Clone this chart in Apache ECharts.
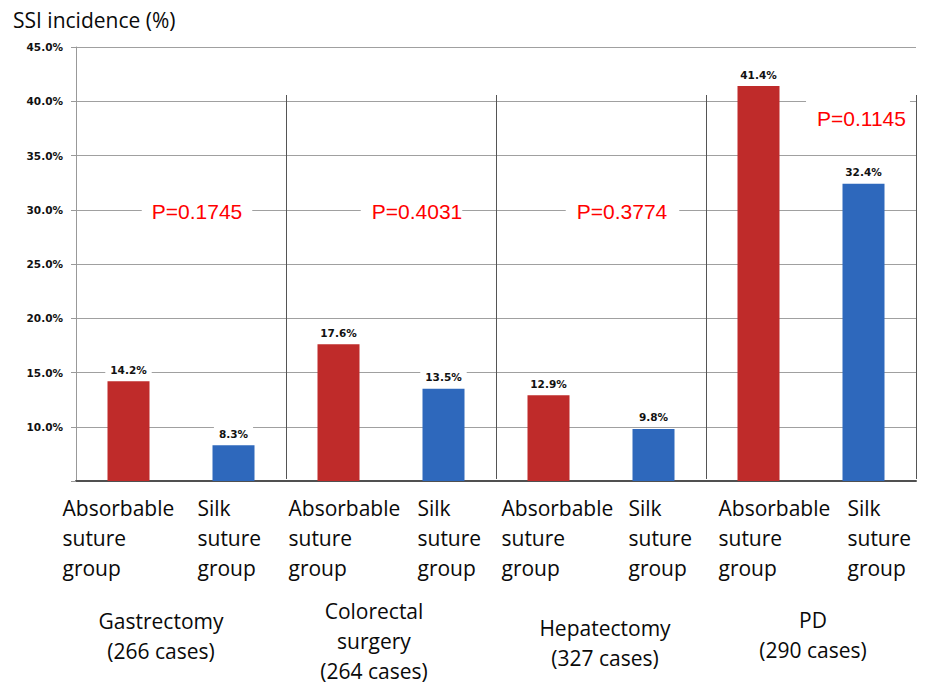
<!DOCTYPE html>
<html>
<head>
<meta charset="utf-8">
<script src="https://cdn.jsdelivr.net/npm/echarts@6/dist/echarts.min.js"></script>
<style>
html,body{margin:0;padding:0;background:#fff;}
#chart{width:926px;height:686px;}
</style>
</head>
<body>
<div id="chart"></div>
<script>
// ---- data ----
const categories = [
  'Absorbable\nsuture\ngroup', 'Silk\nsuture\ngroup',
  'Absorbable\nsuture\ngroup', 'Silk\nsuture\ngroup',
  'Absorbable\nsuture\ngroup', 'Silk\nsuture\ngroup',
  'Absorbable\nsuture\ngroup', 'Silk\nsuture\ngroup'
];
const incidence = [14.2, 8.3, 17.6, 13.5, 12.9, 9.8, 41.4, 32.4];
const groups = ['Gastrectomy\n(266 cases)', 'Colorectal\nsurgery\n(264 cases)', 'Hepatectomy\n(327 cases)', 'PD\n(290 cases)'];
const pValues = ['P=0.1745', 'P=0.4031', 'P=0.3774', 'P=0.1145'];
const yTicks = {min: 5, max: 45, interval: 5};
const yTitle = 'SSI incidence (%)';

// ---- styling ----
const RED = '#BF2B2A', BLUE = '#2E68BC';
const catShift = [66, 36, 50, 26, 47, 25, 40, 16];     // left offset of category label blocks
const groupPad = [[10, 40, 0, 0], [0, 34, 0, 0], [17, 0, 0, 8], [9, 0, 0, 4]];
const pLayout = [
  {coord: [1, 30], pad: [4, 10, 4, 10], offset: [-36.5, 2]},
  {coord: [3, 30], pad: [4, 0, 4, 11], offset: [-32, 2]},
  {coord: [5, 30], pad: [4, 12, 4, 11], offset: [-31, 2]},
  {coord: [7, 40], pad: [12, 4, 4, 11], offset: [-5.5, 17]}
];

const rich = {};
catShift.forEach((w, i) => {
  rich['c' + i] = {width: w, align: 'left', fontSize: 21, lineHeight: 30,
    fontFamily: 'Open Sans', color: '#0a0a0a'};
});

const option = {
  animation: false,
  backgroundColor: '#fff',
  title: {
    text: yTitle, left: 8, top: 4,
    textStyle: {fontFamily: 'Open Sans', fontSize: 21, fontWeight: 'normal', color: '#0a0a0a'}
  },
  grid: [
    {left: 76, right: 10, top: 47, bottom: 205},
    {left: 76, right: 10, top: 95, bottom: 205}
  ],
  xAxis: [
    {
      type: 'category', gridIndex: 0, data: categories,
      axisLine: {lineStyle: {color: '#505050', width: 2}},
      axisTick: {show: false},
      axisLabel: {
        interval: 0, align: 'right', verticalAlign: 'top', margin: 12,
        formatter: (v, i) => v.split('\n').map(l => '{c' + i + '|' + l + '}').join('\n'),
        rich: rich
      }
    },
    {
      type: 'category', gridIndex: 1,
      data: groups.map((g, i) => ({value: g, textStyle: {padding: groupPad[i]}})),
      axisLine: {show: false}, axisTick: {show: false},
      splitLine: {show: true, showMinLine: false, lineStyle: {color: '#555', width: 1}},
      axisLabel: {
        interval: 0, align: 'center', verticalAlign: 'top', margin: 117,
        fontFamily: 'Open Sans', fontSize: 21, lineHeight: 30, color: '#0a0a0a'
      }
    }
  ],
  yAxis: [
    {
      type: 'value', gridIndex: 0, min: yTicks.min, max: yTicks.max, interval: yTicks.interval,
      axisLine: {show: true, lineStyle: {color: '#999'}},
      axisTick: {show: true, length: 5, lineStyle: {color: '#999'}},
      splitLine: {lineStyle: {color: '#A0A0A0'}},
      axisLabel: {
        margin: 13, color: '#111', fontFamily: 'DejaVu Sans', fontWeight: 'bold', fontSize: 10.5,
        formatter: v => v === yTicks.min ? '' : v.toFixed(1) + '%'
      }
    },
    {type: 'value', gridIndex: 1, min: 0, max: 1, show: false}
  ],
  series: [
    {
      type: 'bar', xAxisIndex: 0, yAxisIndex: 0, barWidth: 42,
      data: incidence.map((v, i) => ({value: v, itemStyle: {color: i % 2 === 0 ? RED : BLUE}})),
      label: {
        show: true, position: 'top', distance: 4,
        formatter: p => p.value.toFixed(1) + '%',
        fontFamily: 'DejaVu Sans', fontWeight: 'bold', fontSize: 10.5, color: '#111',
        backgroundColor: '#fff', padding: [2, 5]
      },
      markPoint: {
        symbol: 'circle', symbolSize: 1,
        itemStyle: {color: 'rgba(0,0,0,0)'},
        data: pValues.map((p, i) => ({
          coord: pLayout[i].coord, value: p,
          label: {
            show: true, position: 'inside', formatter: p,
            offset: pLayout[i].offset, padding: pLayout[i].pad,
            backgroundColor: '#fff', color: '#FF0000',
            fontFamily: 'Liberation Sans', fontSize: 21
          }
        }))
      }
    }
  ]
};

const chart = echarts.init(document.getElementById('chart'), null, {renderer: 'svg'});
chart.setOption(option);
</script>
</body>
</html>
